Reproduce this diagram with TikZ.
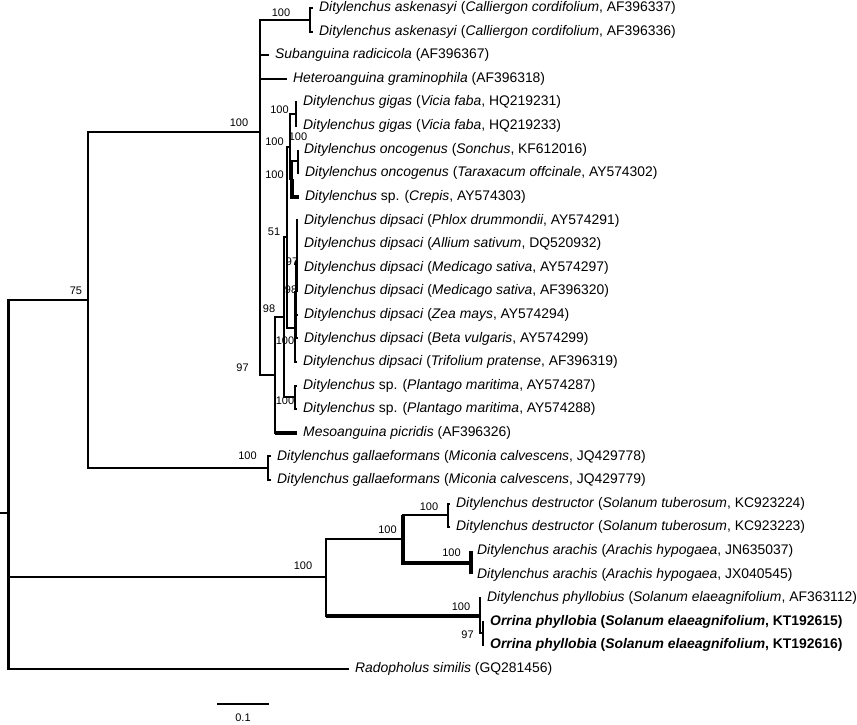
\documentclass[tikz,border=0pt]{standalone}
\usepackage{fontspec}
\setmainfont{Liberation Sans}
\begin{document}
\begin{tikzpicture}[x=1pt,y=-1pt,
  br/.style={line width=2pt},
  thk/.style={line width=3.8pt},
  rootln/.style={line width=3pt},
  tiplab/.style={anchor=west,inner sep=0pt,xshift=6pt,font=\fontsize{13.9}{16}\selectfont},
  bs/.style={inner sep=0pt,font=\fontsize{11}{13}\selectfont}]
\useasboundingbox (0,0) rectangle (857,724);
% internal nodes
\coordinate (stub) at (0,513);
\coordinate (root) at (8,513);
\coordinate (n75) at (88,300.2);
\coordinate (nBig) at (260,132.2);
\coordinate (nA) at (260,37.5);
\coordinate (nAsk) at (310,19.8);
\coordinate (nHb) at (260,226.9);
\coordinate (n97) at (275,375);
\coordinate (n98) at (284,317.1);
\coordinate (n51) at (287,237);
\coordinate (nB) at (290,146.6);
\coordinate (nGig) at (296,114.2);
\coordinate (nC) at (292,179.1);
\coordinate (nOnc) at (298,161.4);
\coordinate (nD) at (295,328);
\coordinate (nE) at (296,292);
\coordinate (nF) at (297,262);
\coordinate (nPl) at (295,397.4);
\coordinate (nGal) at (268,468.2);
\coordinate (nLow) at (326,577.3);
\coordinate (n403) at (403,539);
\coordinate (nDes) at (448,515.4);
\coordinate (nAr) at (471,562.6);
\coordinate (nPhy) at (480,615.7);
\coordinate (nOr) at (483,633.4);
% tips
\coordinate (t1) at (313,8);
\coordinate (t2) at (313,31.6);
\coordinate (t3) at (269,55.2);
\coordinate (t4) at (287,78.8);
\coordinate (t5) at (297,102.4);
\coordinate (t6) at (297,126);
\coordinate (t7) at (298,149.6);
\coordinate (t8) at (299,173.2);
\coordinate (t9) at (299,196.8);
\coordinate (t10) at (298,220.4);
\coordinate (t11) at (298,244);
\coordinate (t12) at (298,267.6);
\coordinate (t13) at (298,291.2);
\coordinate (t14) at (298,314.8);
\coordinate (t15) at (298,338.4);
\coordinate (t16) at (297,362);
\coordinate (t17) at (297,385.6);
\coordinate (t18) at (297,409.2);
\coordinate (t19) at (297,432.8);
\coordinate (t20) at (271,456.4);
\coordinate (t21) at (271,480);
\coordinate (t22) at (450,503.6);
\coordinate (t23) at (450,527.2);
\coordinate (t24) at (471,550.8);
\coordinate (t25) at (471,574.4);
\coordinate (t26) at (481,598);
\coordinate (t27) at (484,621.6);
\coordinate (t28) at (484,645.2);
\coordinate (t29) at (349,668.8);
% bootstrap labels
\node[bs] (b1) at (281,13) {100};
\node[bs] (b2) at (239,123) {100};
\node[bs] (b3) at (76,291) {75};
\node[bs] (b4) at (279.5,110) {100};
\node[bs] (b5) at (274.5,142) {100};
\node[bs] (b6) at (298,137) {100};
\node[bs] (b7) at (274.5,175) {100};
\node[bs] (b8) at (274,232) {51};
\node[bs] (b9) at (292,262) {97};
\node[bs] (b10) at (291,290) {98};
\node[bs] (b11) at (269,309) {98};
\node[bs] (b12) at (285,341) {100};
\node[bs] (b13) at (285,401) {100};
\node[bs] (b14) at (242.5,368) {97};
\node[bs] (b15) at (247.5,456) {100};
\node[bs] (b16) at (303,566) {100};
\node[bs] (b17) at (387.5,530) {100};
\node[bs] (b18) at (429,507) {100};
\node[bs] (b19) at (451.5,553) {100};
\node[bs] (b20) at (461,607) {100};
\node[bs] (b21) at (467.5,635) {97};
% branches
\draw[br] (stub) -- (root);
\draw[br] (root) |- (n75);
\draw[br] (root) |- (nLow);
\draw[br] (root) |- (t29);
\draw[rootln] (root |- n75) -- (root |- t29);
\draw[br] (n75) |- (nBig);
\draw[br] (n75) |- (nGal);
\draw[br] (nBig) |- (nA);
\draw[br] (nBig) |- (nHb);
\draw[br] (nA) |- (nAsk);
\draw[br] (nA) |- (t3);
\draw[br] (nAsk) |- (t1);
\draw[br] (nAsk) |- (t2);
\draw[br] (nHb) |- (t4);
\draw[br] (nHb) |- (n97);
\draw[br] (n97) |- (n98);
\draw[br] (n97) |- (t19);
\draw[thk] (n97 |- t19) -- (t19);
\draw[br] (n98) |- (n51);
\draw[br] (n98) |- (nPl);
\draw[br] (nPl) |- (t17);
\draw[br] (nPl) |- (t18);
\draw[br] (n51) |- (nB);
\draw[br] (n51) |- (nD);
\draw[br] (nB) |- (nGig);
\draw[br] (nB) |- (nC);
\draw[br] (nGig) |- (t5);
\draw[br] (nGig) |- (t6);
\draw[br] (nC) |- (nOnc);
\draw[thk] (nC) |- (t9);
\draw[br] (nOnc) |- (t7);
\draw[br] (nOnc) |- (t8);
\draw[br] (nD) |- (nE);
\draw[br] (nD) |- (t16);
\draw[br] (nE) |- (nF);
\draw[br] (nE) |- (t14);
\draw[br] (nE) |- (t15);
\draw[br] (nF) |- (t10);
\draw[br] (nF) |- (t11);
\draw[br] (nF) |- (t12);
\draw[br] (nF) |- (t13);
\draw[br] (nGal) |- (t20);
\draw[br] (nGal) |- (t21);
\draw[br] (nLow) |- (n403);
\draw[br] (nLow) |- (nPhy);
\draw[thk] (nLow |- nPhy) -- (nPhy);
\draw[br] (n403) |- (nDes);
\draw[thk] (n403 |- nDes) -- (n403);
\draw[thk] (n403) |- (nAr);
\draw[br] (nDes) |- (t22);
\draw[br] (nDes) |- (t23);
\draw[thk] (nAr) |- (t24);
\draw[thk] (nAr) |- (t25);
\draw[br] (nPhy) |- (t26);
\draw[br] (nPhy) |- (nOr);
\draw[br] (nOr) |- (t27);
\draw[br] (nOr) |- (t28);
% tip labels
\node[tiplab] (L1) at (t1) {\textit{Ditylenchus askenasyi} (\textit{Calliergon cordifolium}, AF396337)};
\node[tiplab] (L2) at (t2) {\textit{Ditylenchus askenasyi} (\textit{Calliergon cordifolium}, AF396336)};
\node[tiplab] (L3) at (t3) {\textit{Subanguina radicicola} (AF396367)};
\node[tiplab] (L4) at (t4) {\textit{Heteroanguina graminophila} (AF396318)};
\node[tiplab] (L5) at (t5) {\textit{Ditylenchus gigas} (\textit{Vicia faba}, HQ219231)};
\node[tiplab] (L6) at (t6) {\textit{Ditylenchus gigas} (\textit{Vicia faba}, HQ219233)};
\node[tiplab] (L7) at (t7) {\textit{Ditylenchus oncogenus} (\textit{Sonchus}, KF612016)};
\node[tiplab] (L8) at (t8) {\textit{Ditylenchus oncogenus} (\textit{Taraxacum offcinale}, AY574302)};
\node[tiplab] (L9) at (t9) {\textit{Ditylenchus} sp. (\textit{Crepis}, AY574303)};
\node[tiplab] (L10) at (t10) {\textit{Ditylenchus dipsaci} (\textit{Phlox drummondii}, AY574291)};
\node[tiplab] (L11) at (t11) {\textit{Ditylenchus dipsaci} (\textit{Allium sativum}, DQ520932)};
\node[tiplab] (L12) at (t12) {\textit{Ditylenchus dipsaci} (\textit{Medicago sativa}, AY574297)};
\node[tiplab] (L13) at (t13) {\textit{Ditylenchus dipsaci} (\textit{Medicago sativa}, AF396320)};
\node[tiplab] (L14) at (t14) {\textit{Ditylenchus dipsaci} (\textit{Zea mays}, AY574294)};
\node[tiplab] (L15) at (t15) {\textit{Ditylenchus dipsaci} (\textit{Beta vulgaris}, AY574299)};
\node[tiplab] (L16) at (t16) {\textit{Ditylenchus dipsaci} (\textit{Trifolium pratense}, AF396319)};
\node[tiplab] (L17) at (t17) {\textit{Ditylenchus} sp. (\textit{Plantago maritima}, AY574287)};
\node[tiplab] (L18) at (t18) {\textit{Ditylenchus} sp. (\textit{Plantago maritima}, AY574288)};
\node[tiplab] (L19) at (t19) {\textit{Mesoanguina picridis} (AF396326)};
\node[tiplab] (L20) at (t20) {\textit{Ditylenchus gallaeformans} (\textit{Miconia calvescens}, JQ429778)};
\node[tiplab] (L21) at (t21) {\textit{Ditylenchus gallaeformans} (\textit{Miconia calvescens}, JQ429779)};
\node[tiplab] (L22) at (t22) {\textit{Ditylenchus destructor} (\textit{Solanum tuberosum}, KC923224)};
\node[tiplab] (L23) at (t23) {\textit{Ditylenchus destructor} (\textit{Solanum tuberosum}, KC923223)};
\node[tiplab] (L24) at (t24) {\textit{Ditylenchus arachis} (\textit{Arachis hypogaea}, JN635037)};
\node[tiplab] (L25) at (t25) {\textit{Ditylenchus arachis} (\textit{Arachis hypogaea}, JX040545)};
\node[tiplab] (L26) at (t26) {\textit{Ditylenchus phyllobius} (\textit{Solanum elaeagnifolium}, AF363112)};
\node[tiplab] (L27) at (t27) {\bfseries\textit{Orrina phyllobia} (\textit{Solanum elaeagnifolium}, KT192615)};
\node[tiplab] (L28) at (t28) {\bfseries\textit{Orrina phyllobia} (\textit{Solanum elaeagnifolium}, KT192616)};
\node[tiplab] (L29) at (t29) {\textit{Radopholus similis} (GQ281456)};
% scale bar
\coordinate (sb1) at (217,704);
\coordinate (sb2) at (269,704);
\draw[br] (sb1) -- (sb2);
\node[bs] (sbl) at (243,718) {0.1};
\end{tikzpicture}
\end{document}
